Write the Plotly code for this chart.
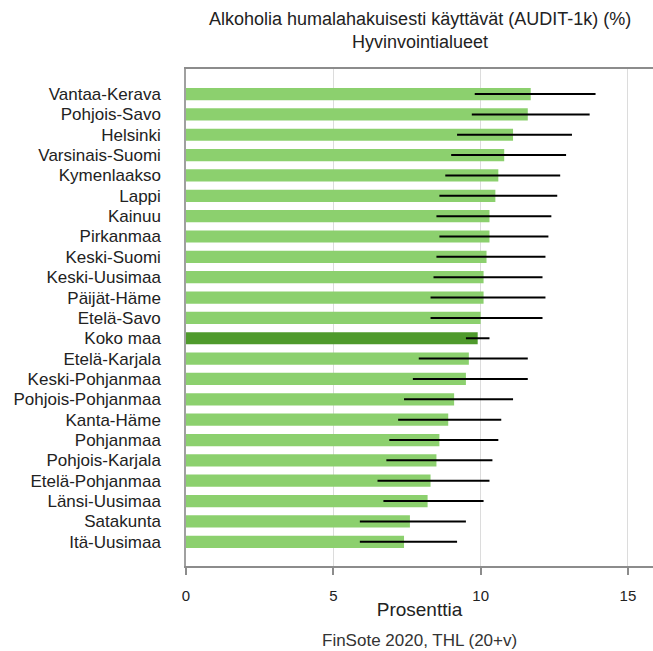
import plotly.graph_objects as go

regions = ["Vantaa-Kerava", "Pohjois-Savo", "Helsinki", "Varsinais-Suomi", "Kymenlaakso",
           "Lappi", "Kainuu", "Pirkanmaa", "Keski-Suomi", "Keski-Uusimaa", "Päijät-Häme",
           "Etelä-Savo", "Koko maa", "Etelä-Karjala", "Keski-Pohjanmaa", "Pohjois-Pohjanmaa",
           "Kanta-Häme", "Pohjanmaa", "Pohjois-Karjala", "Etelä-Pohjanmaa", "Länsi-Uusimaa",
           "Satakunta", "Itä-Uusimaa"]
values = [11.7, 11.6, 11.1, 10.8, 10.6, 10.5, 10.3, 10.3, 10.2, 10.1, 10.1, 10.0, 9.9,
          9.6, 9.5, 9.1, 8.9, 8.6, 8.5, 8.3, 8.2, 7.6, 7.4]
ci_low = [9.8, 9.7, 9.2, 9.0, 8.8, 8.6, 8.5, 8.6, 8.5, 8.4, 8.3, 8.3, 9.5,
          7.9, 7.7, 7.4, 7.2, 6.9, 6.8, 6.5, 6.7, 5.9, 5.9]
ci_high = [13.9, 13.7, 13.1, 12.9, 12.7, 12.6, 12.4, 12.3, 12.2, 12.1, 12.2, 12.1, 10.3,
           11.6, 11.6, 11.1, 10.7, 10.6, 10.4, 10.3, 10.1, 9.5, 9.2]
x_ticks = [0, 5, 10, 15]

colors = ["#4f9a2c" if r == "Koko maa" else "#8cd06e" for r in regions]

fig = go.Figure(go.Bar(
    x=values, y=regions, orientation="h",
    marker=dict(color=colors, line=dict(width=0)),
    error_x=dict(type="data", symmetric=False,
                 array=[h - v for h, v in zip(ci_high, values)],
                 arrayminus=[v - l for l, v in zip(ci_low, values)],
                 color="black", thickness=2, width=0),
))

n = len(regions)
fig.update_layout(
    width=653, height=651,
    margin=dict(l=186, r=0, t=69, b=85),
    paper_bgcolor="white", plot_bgcolor="white",
    bargap=0.4,
    font=dict(family="Liberation Sans, Arial, sans-serif", size=16, color="#222"),
    showlegend=False,
    annotations=[
        dict(text="Alkoholia humalahakuisesti käyttävät (AUDIT-1k) (%)<br>Hyvinvointialueet",
             x=0.5, xref="paper", y=1, yref="paper", yanchor="bottom", yshift=15,
             showarrow=False, font=dict(size=18, color="#222")),
        dict(text="FinSote 2020, THL (20+v)", x=0.5, xref="paper", y=0, yref="paper",
             yanchor="top", yshift=-63, showarrow=False, font=dict(size=17, color="#333")),
    ],
)
fig.update_xaxes(
    range=[0, 15.85], tickvals=x_ticks, ticktext=[str(t) for t in x_ticks],
    showgrid=True, gridcolor="#dcdcdc", gridwidth=1, zeroline=False,
    showline=True, linecolor="#8c8c8c", linewidth=1.5, mirror=True,
    ticks="outside", ticklen=7, tickcolor="#8c8c8c", tickwidth=1.5,
    ticklabelstandoff=8,
    tickfont=dict(size=15, color="#222"),
    title=dict(text="Prosenttia", font=dict(size=19, color="#222"), standoff=0),
)
fig.update_yaxes(
    type="category", categoryorder="array", categoryarray=regions,
    range=[n - 1 + 1.19, -1.23],
    showgrid=False, zeroline=False,
    showline=True, linecolor="#a0a0a0", linewidth=1.5,
    ticks="", ticklabelstandoff=20,
    tickfont=dict(size=17, color="#222"),
)

fig.write_html("out.html")
